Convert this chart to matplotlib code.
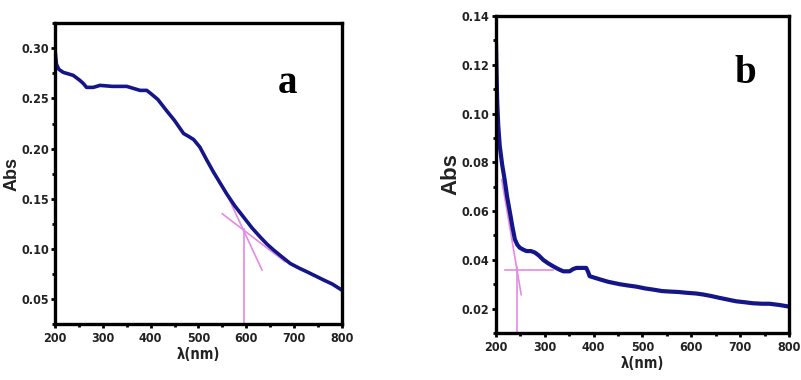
import matplotlib
matplotlib.use("Agg")
import matplotlib.pyplot as plt
from matplotlib.ticker import MultipleLocator

plt.rcParams['font.family'] = ['Liberation Sans Narrow', 'DejaVu Sans']
plt.rcParams['font.stretch'] = 'condensed'

# panel a: absorbance spectrum
wl_a = [200, 203, 208, 217, 238, 252, 259, 266, 280, 294, 320, 350, 378, 392, 400,
        415, 433, 450, 469, 480, 490, 503, 517, 531, 545, 559, 576, 594, 612, 629,
        643, 657, 675, 692, 710, 727, 745, 762, 780, 800]
abs_a = [0.298, 0.284, 0.279, 0.276, 0.273, 0.268, 0.265, 0.261, 0.261, 0.263, 0.262,
         0.262, 0.258, 0.258, 0.255, 0.249, 0.238, 0.228, 0.215, 0.212, 0.209, 0.2015,
         0.189, 0.177, 0.166, 0.155, 0.143, 0.132, 0.121, 0.112, 0.105, 0.099, 0.092,
         0.0855, 0.081, 0.0772, 0.073, 0.069, 0.065, 0.059]
# tangent construction lines, panel a
tan1_a_x = [552, 633]
tan1_a_y = [0.162, 0.079]
tan2_a_x = [550, 681]
tan2_a_y = [0.135, 0.0873]
edge_a_x = [596, 596]
edge_a_y = [0.12, 0.025]

# panel b: absorbance spectrum
wl_b = [200, 201, 202, 203, 205, 208, 213, 218, 223, 229, 234, 239, 244, 249, 256,
        263, 272, 280, 288, 297, 307, 317, 328, 338, 351, 358, 365, 375, 385, 389,
        392, 400, 413, 430, 454, 470, 488, 505, 522, 540, 556, 575, 590, 610, 624,
        640, 658, 675, 692, 710, 726, 745, 760, 780, 795, 800]
abs_b = [0.132, 0.122, 0.112, 0.104, 0.095, 0.0868, 0.079, 0.073, 0.066, 0.0593,
         0.0535, 0.0484, 0.0462, 0.045, 0.0442, 0.0436, 0.0436, 0.043, 0.0418, 0.040,
         0.0386, 0.0374, 0.0362, 0.0353, 0.0353, 0.0362, 0.0367, 0.0367, 0.0367,
         0.0350, 0.0333, 0.0328, 0.032, 0.031, 0.030, 0.0295, 0.029, 0.0283, 0.0278,
         0.0272, 0.027, 0.0268, 0.0265, 0.0262, 0.0258, 0.0252, 0.0244, 0.0237,
         0.023, 0.0226, 0.0222, 0.022, 0.022, 0.0215, 0.021, 0.0208]
tan1_b_x = [218, 317]
tan1_b_y = [0.036, 0.036]
tan2_b_x = [212, 252]
tan2_b_y = [0.073, 0.0257]
edge_b_x = [243.6, 243.6]
edge_b_y = [0.037, 0.010]

line_col = '#15158a'
pink = '#e58ae5'

fig = plt.figure(figsize=(8.01, 3.8), dpi=100)

ax1 = fig.add_axes([0.0687, 0.147, 0.358, 0.792])
ax2 = fig.add_axes([0.619, 0.1237, 0.366, 0.834])


def style(ax, ylab_size, xlab_size):
    for s in ax.spines.values():
        s.set_linewidth(2.4)
    ax.xaxis.set_major_locator(MultipleLocator(100))
    ax.xaxis.set_minor_locator(MultipleLocator(50))
    ax.tick_params(which='major', direction='out', length=3, width=2,
                   labelsize=9, pad=3)
    ax.tick_params(axis='y', which='major', pad=1.5)
    ax.tick_params(which='minor', direction='out', length=2, width=2)
    for lab in ax.get_xticklabels() + ax.get_yticklabels():
        lab.set_fontweight('bold')
        lab.set_color('#222222')
    ax.set_xlabel('λ(nm)', fontsize=xlab_size, fontweight='bold', color='#222222',
                  labelpad=1)
    ax.set_ylabel('Abs', fontsize=ylab_size, fontweight='bold', color='#222222',
                  family=['Liberation Sans', 'DejaVu Sans'], stretch='normal',
                  labelpad=0)


ax1.plot(tan1_a_x, tan1_a_y, color=pink, lw=1.2)
ax1.plot(tan2_a_x, tan2_a_y, color=pink, lw=1.2)
ax1.plot(edge_a_x, edge_a_y, color=pink, lw=1.2)
ax1.plot(wl_a, abs_a, color=line_col, lw=2.6)
ax1.set_xlim(200, 800)
ax1.set_ylim(0.025, 0.325)
ax1.yaxis.set_major_locator(MultipleLocator(0.05))
ax1.yaxis.set_minor_locator(MultipleLocator(0.025))
ax1.yaxis.set_major_formatter(plt.FormatStrFormatter('%.2f'))
style(ax1, 13, 10.5)
ax1.text(0.81, 0.8, 'a', transform=ax1.transAxes, fontsize=28, fontweight='bold',
         family='Liberation Serif', stretch='normal', ha='center', va='center')

ax2.plot(tan1_b_x, tan1_b_y, color=pink, lw=1.2)
ax2.plot(tan2_b_x, tan2_b_y, color=pink, lw=1.2)
ax2.plot(edge_b_x, edge_b_y, color=pink, lw=1.2)
ax2.plot(wl_b, abs_b, color=line_col, lw=3.0)
ax2.set_xlim(200, 800)
ax2.set_ylim(0.01, 0.14)
ax2.yaxis.set_major_locator(MultipleLocator(0.02))
ax2.yaxis.set_minor_locator(MultipleLocator(0.01))
ax2.yaxis.set_major_formatter(plt.FormatStrFormatter('%.2f'))
style(ax2, 16, 10.5)
ax2.text(0.85, 0.82, 'b', transform=ax2.transAxes, fontsize=28, fontweight='bold',
         family='Liberation Serif', stretch='normal', ha='center', va='center')

fig.savefig('out.png', dpi=100)
